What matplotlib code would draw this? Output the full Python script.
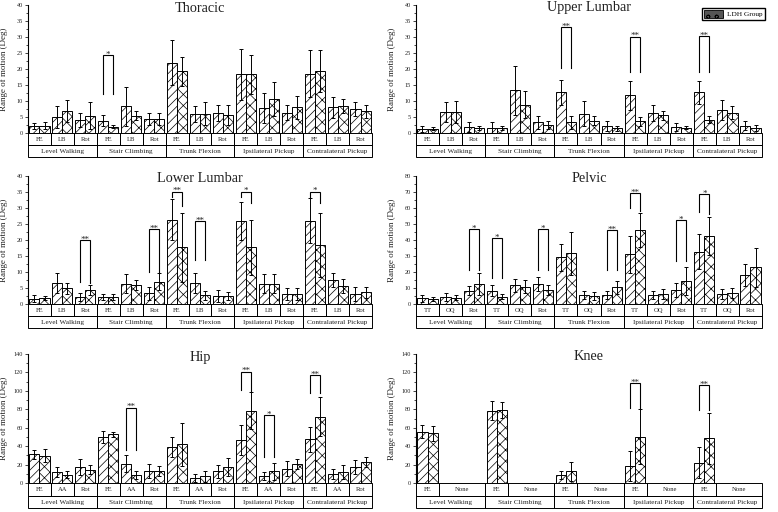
import matplotlib
matplotlib.use("Agg")
import matplotlib.pyplot as plt
from matplotlib.patches import Rectangle, Patch
from matplotlib.ticker import MultipleLocator

plt.rcParams['font.family'] = ['Liberation Serif', 'DejaVu Serif']
plt.rcParams['hatch.linewidth'] = 0.5

# ---------------- data ----------------
groups = ["Level Walking", "Stair Climbing", "Trunk Flexion", "Ipsilateral Pickup", "Contralateral Pickup"]
spine_cats = ["FE", "LB", "Rot"]
pelvic_cats = ["TT", "OQ", "Rot"]
hip_cats = ["FE", "AA", "Rot"]
knee_cats = ["FE", "None"]

thoracic_ctrl = [2.1, 5.0, 4.2, 3.8, 8.3, 4.4, 22.0, 6.0, 6.4, 18.3, 7.8, 6.4, 18.5, 8.1, 7.5]
thoracic_ctrl_sd = [1.0, 3.5, 2.2, 1.7, 6.2, 2.0, 7.0, 2.5, 2.5, 7.9, 4.7, 2.3, 7.4, 3.3, 2.3]
thoracic_ldh = [2.3, 6.8, 5.4, 2.0, 5.4, 4.4, 19.3, 6.0, 5.6, 18.3, 10.6, 8.1, 19.3, 8.5, 6.8]
thoracic_ldh_sd = [1.2, 3.4, 4.2, 0.4, 1.4, 1.8, 4.6, 3.6, 3.1, 6.0, 5.2, 3.6, 6.6, 2.1, 2.0]
thoracic_sig_pos = [3]
thoracic_sig_top = [24.4]
thoracic_sig_low = [(12.2, 12.2)]
thoracic_sig_txt = ["*"]

upper_ctrl = [1.2, 6.5, 1.9, 1.7, 13.3, 3.3, 12.7, 6.0, 2.3, 11.8, 6.2, 1.9, 12.7, 7.3, 2.3]
upper_ctrl_sd = [0.9, 3.1, 1.5, 1.6, 7.7, 2.1, 3.9, 3.9, 1.6, 4.6, 2.6, 1.2, 3.7, 3.1, 1.3]
upper_ldh = [1.4, 6.5, 1.6, 1.5, 8.8, 2.6, 3.3, 3.9, 1.5, 3.6, 5.5, 1.6, 4.2, 6.4, 1.6]
upper_ldh_sd = [0.6, 3.4, 0.7, 0.6, 4.2, 1.2, 1.9, 1.3, 0.8, 1.4, 1.5, 0.5, 1.2, 2.1, 1.0]
upper_sig_pos = [6, 9, 12]
upper_sig_top = [33.2, 30.1, 30.3]
upper_sig_low = [(20.3, 20.3), (19.2, 19.2), (19.2, 19.2)]
upper_sig_txt = ["**", "**", "**"]

lower_ctrl = [1.7, 6.6, 2.1, 2.1, 6.4, 3.3, 26.4, 6.6, 2.5, 26.0, 6.4, 3.1, 26.0, 7.5, 3.1]
lower_ctrl_sd = [1.0, 3.2, 1.2, 1.0, 3.0, 2.1, 6.5, 3.1, 1.9, 6.0, 3.0, 1.8, 7.0, 2.2, 2.1]
lower_ldh = [1.8, 4.9, 4.4, 2.1, 5.9, 7.0, 17.7, 2.8, 2.5, 17.7, 6.4, 3.1, 18.3, 5.6, 3.6]
lower_ldh_sd = [0.7, 1.7, 1.5, 1.0, 1.6, 2.6, 10.8, 1.4, 1.3, 8.5, 3.0, 1.8, 10.0, 2.1, 1.8]
lower_sig_pos = [2, 5, 6, 7, 9, 12]
lower_sig_top = [19.9, 23.4, 35.1, 26.0, 35.1, 35.1]
lower_sig_low = [(7.0, 6.5), (10.1, 10.1), (33.5, 30.5), (13.7, 13.7), (33.5, 31.5), (33.5, 31.5)]
lower_sig_txt = ["**", "**", "**", "**", "*", "*"]

pelvic_ctrl = [3.5, 4.2, 8.3, 8.3, 11.6, 12.5, 29.1, 5.4, 5.6, 31.2, 5.6, 8.7, 32.8, 6.2, 18.1]
pelvic_ctrl_sd = [2.0, 2.5, 2.9, 3.6, 4.0, 4.1, 8.3, 2.5, 2.7, 11.6, 2.7, 4.6, 10.7, 2.9, 6.6]
pelvic_ldh = [3.3, 4.0, 12.5, 4.6, 10.8, 8.7, 31.6, 5.0, 10.4, 46.2, 6.2, 14.6, 42.4, 6.7, 22.9]
pelvic_ldh_sd = [1.3, 1.6, 7.0, 1.4, 4.2, 2.9, 13.5, 2.7, 4.2, 10.8, 2.9, 8.7, 11.7, 3.1, 12.2]
pelvic_sig_pos = [2, 3, 5, 8, 9, 11, 12]
pelvic_sig_top = [46.6, 41.0, 46.6, 46.2, 69.4, 52.4, 68.6]
pelvic_sig_low = [(21.2, 21.2), (16.0, 16.0), (21.2, 21.2), (21.2, 21.2), (59.7, 58.0), (27.0, 27.0), (57.6, 56.0)]
pelvic_sig_txt = ["*", "*", "*", "**", "**", "*", "*"]

hip_ctrl = [31.3, 12.0, 17.5, 50.2, 21.1, 13.1, 39.3, 5.8, 12.7, 46.5, 7.6, 15.6, 47.6, 9.5, 17.5]
hip_ctrl_sd = [5.0, 5.5, 9.0, 6.5, 9.1, 8.0, 10.9, 4.4, 7.3, 16.4, 4.4, 8.4, 13.5, 5.4, 8.0]
hip_ldh = [29.5, 9.1, 14.5, 52.7, 8.4, 13.1, 41.8, 7.3, 17.5, 78.5, 12.7, 21.1, 72.0, 12.0, 22.9]
hip_ldh_sd = [7.0, 4.0, 4.8, 3.0, 4.3, 5.4, 22.9, 5.8, 9.8, 20.0, 9.1, 5.4, 21.1, 7.3, 5.5]
hip_sig_pos = [4, 9, 10, 12]
hip_sig_top = [81.8, 121.0, 73.8, 117.5]
hip_sig_low = [(35.6, 35.6), (101.0, 99.0), (28.4, 28.4), (97.5, 97.5)]
hip_sig_txt = ["**", "**", "*", "**"]

knee_ctrl = [55.6, 78.5, 8.4, 18.5, 22.2]
knee_ctrl_sd = [7.3, 10.6, 4.3, 16.4, 17.1]
knee_ldh = [53.8, 79.3, 12.7, 50.2, 48.4]
knee_ldh_sd = [8.0, 8.7, 10.2, 29.8, 28.0]
knee_sig_pos = [9, 12]
knee_sig_top = [108.4, 106.5]
knee_sig_low = [(81.1, 81.1), (79.3, 79.3)]
knee_sig_txt = ["**", "**"]

# ---------------- style ----------------
CTRL_HATCH = '////'
LDH_HATCH = 'xxx'
TXT = '#222222'
W = 778
H = 512

fig = plt.figure(figsize=(W / 100, H / 100), dpi=100)


def px_rect(x0, x1, ytop, ybot):
    return [x0 / W, 1 - ybot / H, (x1 - x0) / W, (ybot - ytop) / H]


panels = [
    dict(title="Thoracic", cats=spine_cats, ctrl=thoracic_ctrl, csd=thoracic_ctrl_sd, ldh=thoracic_ldh, lsd=thoracic_ldh_sd,
         sp=thoracic_sig_pos, st=thoracic_sig_top, sl=thoracic_sig_low, stx=thoracic_sig_txt, ymax=40, step=5,
         col=0, row=0),
    dict(title="Upper Lumbar", cats=spine_cats, ctrl=upper_ctrl, csd=upper_ctrl_sd, ldh=upper_ldh, lsd=upper_ldh_sd,
         sp=upper_sig_pos, st=upper_sig_top, sl=upper_sig_low, stx=upper_sig_txt, ymax=40, step=5, col=1, row=0),
    dict(title="Lower Lumbar", cats=spine_cats, ctrl=lower_ctrl, csd=lower_ctrl_sd, ldh=lower_ldh, lsd=lower_ldh_sd,
         sp=lower_sig_pos, st=lower_sig_top, sl=lower_sig_low, stx=lower_sig_txt, ymax=40, step=5, col=0, row=1),
    dict(title="Pelvic", cats=pelvic_cats, ctrl=pelvic_ctrl, csd=pelvic_ctrl_sd, ldh=pelvic_ldh, lsd=pelvic_ldh_sd,
         sp=pelvic_sig_pos, st=pelvic_sig_top, sl=pelvic_sig_low, stx=pelvic_sig_txt, ymax=80, step=10, col=1, row=1),
    dict(title="Hip", cats=hip_cats, ctrl=hip_ctrl, csd=hip_ctrl_sd, ldh=hip_ldh, lsd=hip_ldh_sd,
         sp=hip_sig_pos, st=hip_sig_top, sl=hip_sig_low, stx=hip_sig_txt, ymax=140, step=20, col=0, row=2),
    dict(title="Knee", cats=knee_cats, ctrl=knee_ctrl, csd=knee_ctrl_sd, ldh=knee_ldh, lsd=knee_ldh_sd,
         sp=knee_sig_pos, st=knee_sig_top, sl=knee_sig_low, stx=knee_sig_txt, ymax=140, step=20, col=1, row=2),
]

col_x = [(28, 372), (416, 762)]
row_y = [(5, 133, 157), (176, 304, 328), (354, 483, 508)]

bw = 0.44
for p in panels:
    x0, x1 = col_x[p['col']]
    yt, yb, ytb = row_y[p['row']]
    ax = fig.add_axes(px_rect(x0, x1, yt, yb))
    tax = fig.add_axes(px_rect(x0, x1, yb, ytb))
    n_groups = len(groups)
    ncat = len(p['cats'])
    if ncat == 3:
        slots = [g * 3 + k for g in range(n_groups) for k in range(3)]
        cell_w = [1] * (3 * n_groups)
        cell_x = [g * 3 + k for g in range(n_groups) for k in range(3)]
        cell_lab = p['cats'] * n_groups
    else:
        slots = [g * 3 for g in range(n_groups)]
        cell_x = []
        cell_w = []
        cell_lab = []
        for g in range(n_groups):
            cell_x += [g * 3, g * 3 + 1]
            cell_w += [1, 2]
            cell_lab += p['cats']
    centers = [s + 0.5 for s in slots]
    xl = [c - bw / 2 for c in centers]
    xr = [c + bw / 2 for c in centers]
    ek = dict(ecolor='black', elinewidth=0.7, capsize=1.6, capthick=0.7)
    ax.bar(xl, p['ctrl'], width=bw, facecolor='white', edgecolor='black', linewidth=0.7,
           hatch=CTRL_HATCH, yerr=p['csd'], error_kw=ek, zorder=2)
    ax.bar(xr, p['ldh'], width=bw, facecolor='white', edgecolor='black', linewidth=0.7,
           hatch=LDH_HATCH, yerr=p['lsd'], error_kw=ek, zorder=2)
    # significance brackets
    for pos, top, (lo1, lo2), txt in zip(p['sp'], p['st'], p['sl'], p['stx']):
        c = pos + 0.5
        ax.plot([c - bw / 2, c - bw / 2, c + bw / 2, c + bw / 2], [lo1, top, top, lo2],
                color='black', lw=0.8, zorder=3, solid_joinstyle='miter')
        ax.annotate(txt, xy=(c, top), xytext=(0, -1.2), textcoords='offset points',
                    ha='center', va='baseline', fontsize=6.5, color=TXT)
    ax.set_xlim(0, 15)
    ax.set_ylim(0, p['ymax'])
    for s in ['top', 'right', 'bottom']:
        ax.spines[s].set_visible(False)
    ax.spines['left'].set_linewidth(0.8)
    ax.set_xticks([])
    ax.yaxis.set_major_locator(MultipleLocator(p['step']))
    ax.yaxis.set_minor_locator(MultipleLocator(p['step'] / 2))
    ax.tick_params(axis='y', which='major', length=2.5, width=0.6, labelsize=4.5, pad=1, colors=TXT)
    ax.tick_params(axis='y', which='minor', length=1.3, width=0.5)
    ax.set_ylabel("Range of motion (Deg)", fontsize=6.5, color=TXT, labelpad=2)
    ax.yaxis.set_label_coords(-20 / (x1 - x0), 0.5)
    ax.text(0.5, 1 - 3.0 / (yb - yt), p['title'], transform=ax.transAxes, ha='center', va='center',
            fontsize=10.3, color=TXT)
    ax.patch.set_alpha(0)
    # table
    tax.set_xlim(0, 15)
    tax.set_ylim(0, 2)
    tax.axis('off')
    for cx, cw, lab in zip(cell_x, cell_w, cell_lab):
        tax.add_patch(Rectangle((cx, 1), cw, 1, facecolor='none', edgecolor='black', lw=0.7, clip_on=False))
        tax.text(cx + cw / 2, 1.5, lab, ha='center', va='center_baseline', fontsize=4.8, color=TXT)
    for g, gl in enumerate(groups):
        tax.add_patch(Rectangle((g * 3, 0), 3, 1, facecolor='none', edgecolor='black', lw=0.7, clip_on=False))
        tax.text(g * 3 + 1.5, 0.5, gl, ha='center', va='center_baseline', fontsize=5.2, color=TXT)

# legend (only LDH group shown in the original)
fig.legend(handles=[Patch(facecolor='#555555', edgecolor='black', hatch='oo', linewidth=0.6)],
           labels=["LDH Group"], loc='upper right', bbox_to_anchor=(769 / W, 1 - 4 / H),
           fontsize=5.2, frameon=True, fancybox=False, edgecolor='black', framealpha=1,
           handlelength=2.6, handleheight=1.2, borderpad=0.35, handletextpad=0.6)

fig.savefig("out.png", dpi=100)
